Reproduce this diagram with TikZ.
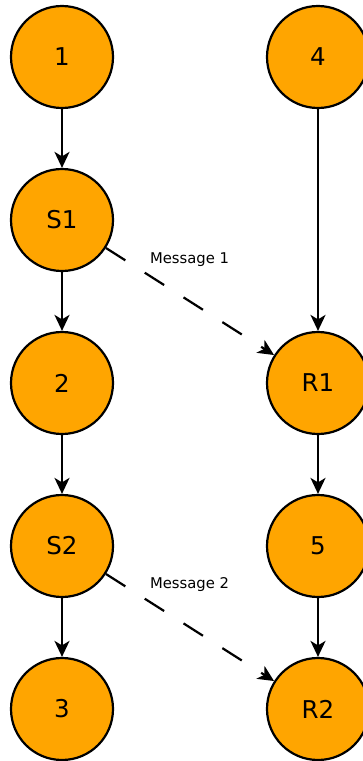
\documentclass[tikz,border=0pt]{standalone}
\usepackage{fontspec}
\setmainfont{DejaVu Sans}
\usetikzlibrary{arrows.meta}
\definecolor{stateorange}{HTML}{FFA500}
\begin{document}
\begin{tikzpicture}[x=1pt,y=-1pt,
  state/.style={circle,draw=black,fill=stateorange,line width=2.2pt,
    minimum size=102pt,inner sep=0pt,font=\fontsize{24.5}{30}\selectfont},
  flow/.style={-{Stealth[length=16pt,width=15pt,inset=4.5pt]},line width=2.2pt},
  msg/.style={flow,dash pattern=on 23pt off 23pt},
  lbl/.style={font=\fontsize{14.8}{17}\selectfont,inner sep=0pt,anchor=base}]
\useasboundingbox (0,0) rectangle (363,761);
\clip (0,0) rectangle (363,761);
% left process
\node[state] (n1) at (62,57) {1};
\node[state] (s1) at (62,220) {S1};
\node[state] (n2) at (62,383) {2};
\node[state] (s2) at (62,546) {S2};
\node[state] (n3) at (62,709) {3};
% right process
\node[state] (n4) at (318,57) {4};
\node[state] (r1) at (318,383) {R1};
\node[state] (n5) at (318,546) {5};
\node[state] (r2) at (318,709) {R2};
% local steps
\draw[flow] (n1) -- (s1);
\draw[flow] (s1) -- (n2);
\draw[flow] (n2) -- (s2);
\draw[flow] (s2) -- (n3);
\draw[flow] (n4) -- (r1);
\draw[flow] (r1) -- (n5);
\draw[flow] (n5) -- (r2);
% messages
\draw[msg] (s1) -- (r1);
\draw[msg] (s2) -- (r2);
\node[lbl] (m1) at (189.5,263) {Message 1};
\node[lbl] (m2) at (189.5,588.3) {Message 2};
\end{tikzpicture}
\end{document}
